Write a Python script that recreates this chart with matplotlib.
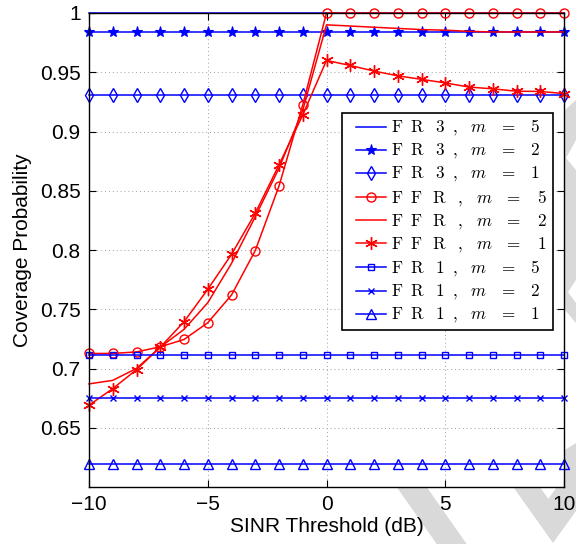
import numpy as np
import matplotlib
matplotlib.use("Agg")
import matplotlib.pyplot as plt
from matplotlib.patches import Polygon
from matplotlib.lines import Line2D
from matplotlib.legend_handler import HandlerLine2D

# ---------------- data ----------------
snr_db = list(range(-10, 11))

fr3_m5 = [1.0] * 21
fr3_m2 = [0.984] * 21
fr3_m1 = [0.931] * 21

ffr_m5 = [0.7127, 0.7127, 0.714, 0.7183, 0.7245, 0.7386, 0.762, 0.7995, 0.854, 0.9225,
          1.0, 1.0, 1.0, 1.0, 1.0, 1.0, 1.0, 1.0, 1.0, 1.0, 1.0]
ffr_m2 = [0.687, 0.690, 0.700, 0.718, 0.733, 0.7555, 0.7887, 0.828, 0.869, 0.918,
          0.990, 0.989, 0.988, 0.987, 0.986, 0.9855, 0.9845, 0.984, 0.984, 0.984, 0.984]
ffr_m1 = [0.669, 0.683, 0.699, 0.718, 0.7394, 0.7668, 0.7963, 0.831, 0.8718, 0.914,
          0.960, 0.9557, 0.951, 0.947, 0.944, 0.941, 0.9375, 0.936, 0.934, 0.9338, 0.932]

fr1_m5 = [0.7113] * 21
fr1_m2 = [0.6755] * 21
fr1_m1 = [0.6195] * 21

fr_a = r'$\mathrm{F\;\;R\;\;\;%s\;\;,}\;\;\,m\;\;\;=\;\;\;%s$'
ffr_a = r'$\mathrm{F\;\;F\;\;\,R\;\;\;,}\;\;\,m\;\;\;=\;\;\;\,%s$'
labels = [
    fr_a % ('3', '5'), fr_a % ('3', '2'), fr_a % ('3', '1'),
    ffr_a % '5', ffr_a % '2', ffr_a % '1',
    fr_a % ('1', '5'), fr_a % ('1', '2'), fr_a % ('1', '1'),
]

xticks = [-10, -5, 0, 5, 10]
yticks = [0.65, 0.7, 0.75, 0.8, 0.85, 0.9, 0.95, 1.0]
ytick_labels = ['0.65', '0.7', '0.75', '0.8', '0.85', '0.9', '0.95', '1']

# ---------------- style ----------------
plt.rcParams['font.family'] = ['Liberation Sans', 'DejaVu Sans']
plt.rcParams['mathtext.fontset'] = 'cm'

W, H = 576, 544
fig = plt.figure(figsize=(W / 100, H / 100), dpi=100)

# watermark-like grey stripes in the margins (figure pixel coords, y from top)
def px(pts):
    return [(x / W, 1 - y / H) for x, y in pts]

grey = '#d9d9d9'
for poly in [
    [(396.7, 487), (426.7, 487), (466.7, 544), (436.7, 544)],
    [(513.3, 487), (540, 487), (548.3, 498.9), (576, 460), (576, 511), (553, 543)],
    [(565, 110), (576, 100), (576, 140), (566, 158), (576, 170), (576, 280),
     (568, 292), (576, 303), (576, 323), (565, 310)],
    [(565, 450), (576, 443), (576, 500), (565, 490)],
]:
    fig.patches.append(Polygon(px(poly), closed=True, transform=fig.transFigure,
                               facecolor=grey, edgecolor='none', zorder=0))

ax = fig.add_axes([89 / W, 1 - 487 / H, (564 - 89) / W, (487 - 13) / H])
ax.set_zorder(1)

lw = 1.1
blue = (0, 0, 1)
red = (1, 0, 0)
common = dict(lw=lw, clip_on=False, markerfacecolor='none', markeredgewidth=1.0)

ax.plot(snr_db, fr3_m5, '-', color=blue, label=labels[0], **common)
ax.plot(snr_db, fr3_m2, '-', color=blue, marker='*', ms=8, markerfacecolor=blue,
        markeredgewidth=0.8, lw=lw, clip_on=False, label=labels[1])
ax.plot(snr_db, fr3_m1, '-', color=blue, marker='d', ms=7.5, label=labels[2], **common)
ax.plot(snr_db, ffr_m5, '-', color=red, marker='o', ms=6.5, label=labels[3], **common)
ax.plot(snr_db, ffr_m2, '-', color=red, label=labels[4], **common)
ax.plot(snr_db, ffr_m1, '-', color=red, marker=(6, 2, 0), ms=9, label=labels[5], **common)
ax.plot(snr_db, fr1_m5, '-', color=blue, marker='s', ms=5, label=labels[6], **common)
ax.plot(snr_db, fr1_m2, '-', color=blue, marker='x', ms=4, label=labels[7], **common)
ax.plot(snr_db, fr1_m1, '-', color=blue, marker='^', ms=7, label=labels[8], **common)

ax.set_xlim(-10, 10)
ax.set_ylim(0.6, 1.0)
ax.set_xticks(xticks)
ax.set_xticklabels(['\u221210', '\u22125', '0', '5', '10'])
ax.set_yticks(yticks)
ax.set_yticklabels(ytick_labels)
ax.tick_params(direction='in', top=True, right=True, length=5, width=0.8,
               labelsize=15, pad=6)
ax.grid(True, linestyle=(0, (1, 3)), color='#a0a0a0', lw=0.7)
for s in ax.spines.values():
    s.set_linewidth(1.0)
    s.set_color('black')

ax.set_xlabel('SINR Threshold (dB)', fontsize=15, labelpad=2)
ax.set_ylabel('Coverage Probability', fontsize=15, labelpad=6)

leg = ax.legend(loc='upper right', bbox_to_anchor=(0.9768, 0.789), fontsize=12.3,
                frameon=True, fancybox=False, framealpha=1, edgecolor='black',
                handlelength=2.3, handletextpad=0.3, labelspacing=0.24,
                borderpad=0.3, borderaxespad=0,
                handler_map={Line2D: HandlerLine2D(xpad=0.55)})
leg.get_frame().set_linewidth(1.2)

fig.savefig('out.png', dpi=100)
